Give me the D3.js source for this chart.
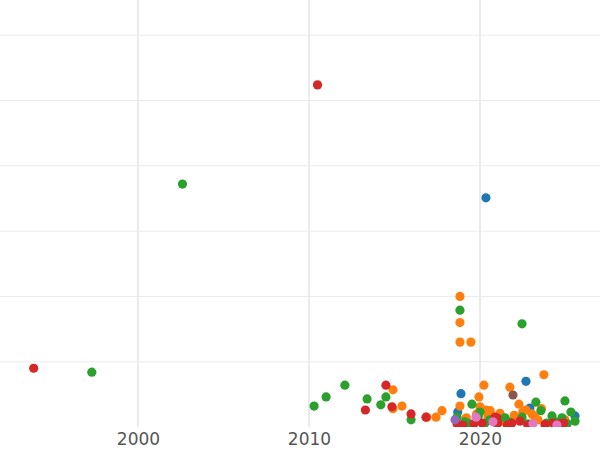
<!DOCTYPE html>
<html><head><meta charset="utf-8">
<script src="https://cdn.jsdelivr.net/npm/d3@7"></script>
<style>body{margin:0;background:#fff}</style></head>
<body><svg id="c" width="600" height="450"></svg>
<script>
const seriesNames = ["blue","orange","green","red","purple","brown","pink"];
const colors = ["#1f77b4","#ff7f0e","#2ca02c","#d62728","#9467bd","#8c564b","#e377c2"];
const blueYears = [2020.35,2022.69,2018.89,2025.56,2022.92,2018.7,2021.3];
const blueVals  = [3.51,0.70,0.51,0.17,0.29,0.23,0.12];
const orangeYears = [2018.83,2018.83,2018.83,2019.47,2014.91,2015.44,2014.91,2017.43,2017.78,2019.94,2020.23,2021.75,2023.74,2022.28,2020.0,2020.35,2021.17,2022.69,2023.04,2023.39,2018.83,2020.47,2024.97,2019.2,2019.8,2020.6,2021.0,2021.4,2022.0,2022.5,2023.2,2023.6,2024.3,2016.9];
const orangeVals  = [2.0,1.6,1.3,1.3,0.57,0.32,0.28,0.15,0.25,0.46,0.64,0.61,0.80,0.35,0.31,0.26,0.21,0.26,0.20,0.11,0.32,0.17,0.11,0.14,0.2,0.25,0.12,0.09,0.18,0.23,0.15,0.28,0.1,0.15];
const greenYears = [1997.3,2002.6,2010.3,2011.0,2012.1,2013.4,2014.2,2014.5,2015.97,2018.83,2022.46,2019.53,2023.27,2024.97,2018.66,2019.12,2020.0,2020.58,2021.46,2022.46,2023.56,2024.21,2024.80,2025.32,2025.56,2019.4,2020.3,2021.0,2021.7,2022.8,2023.9,2024.5,2025.1,2019.9];
const greenVals  = [0.84,3.72,0.32,0.46,0.64,0.43,0.34,0.46,0.11,1.79,1.58,0.35,0.38,0.40,0.15,0.08,0.23,0.11,0.14,0.15,0.25,0.17,0.14,0.23,0.09,0.05,0.06,0.05,0.08,0.05,0.06,0.07,0.05,0.16];
const redYears = [1993.9,2010.5,2014.5,2013.3,2014.85,2015.97,2016.84,2018.66,2019.65,2020.12,2021.87,2022.34,2024.27,2024.68,2020.99,2020.88,2021.05,2019.0,2021.6,2023.0,2023.8,2024.9,2022.8];
const redVals  = [0.90,5.24,0.64,0.26,0.31,0.20,0.15,0.05,0.05,0.06,0.06,0.09,0.06,0.05,0.14,0.15,0.06,0.03,0.03,0.03,0.04,0.06,0.03];
const purpleYears = [2018.54];
const purpleVals  = [0.11];
const brownYears = [2021.93];
const brownVals  = [0.49];
const pinkYears = [2019.77,2020.76,2023.10,2024.50];
const pinkVals  = [0.15,0.08,0.05,0.03];
const xTicks = [2000,2010,2020];
const yGrid = [1,2,3,4,5,6];

const allYears=[blueYears,orangeYears,greenYears,redYears,purpleYears,brownYears,pinkYears];
const allVals=[blueVals,orangeVals,greenVals,redVals,purpleVals,brownVals,pinkVals];

const W=600,H=427;
const x=d3.scaleLinear().domain([1991.93,2027.02]).range([0,W]);
const y=d3.scaleLinear().domain([0,6.54]).range([H,0]);
const svg=d3.select("#c");
svg.append("defs").append("clipPath").attr("id","cp").append("rect").attr("width",W).attr("height",H);
const g=svg.append("g");
g.selectAll(".hg").data(yGrid).enter().append("line")
 .attr("x1",0).attr("x2",W).attr("y1",d=>y(d)).attr("y2",d=>y(d)).attr("stroke","#ebebeb").attr("stroke-width",1);
g.selectAll(".vg").data(xTicks).enter().append("line")
 .attr("x1",d=>x(d)).attr("x2",d=>x(d)).attr("y1",0).attr("y2",H).attr("stroke","#ebebeb").attr("stroke-width",2);
const ax=svg.append("g").attr("transform",`translate(0,${H})`).call(d3.axisBottom(x).tickValues(xTicks).tickFormat(d3.format("d")).tickSize(0).tickPadding(6));
ax.select(".domain").remove();
ax.selectAll("text").attr("fill","#555").attr("font-size",17).attr("font-family","DejaVu Sans");
const pg=svg.append("g").attr("clip-path","url(#cp)");
seriesNames.forEach((n,i)=>{
  const pts=allYears[i].map((yr,j)=>({yr,v:allVals[i][j]}));
  pg.selectAll(".p"+i).data(pts).enter().append("circle")
   .attr("cx",d=>x(d.yr)).attr("cy",d=>y(d.v)).attr("r",4.6).attr("fill",colors[i]);
});
</script></body></html>
